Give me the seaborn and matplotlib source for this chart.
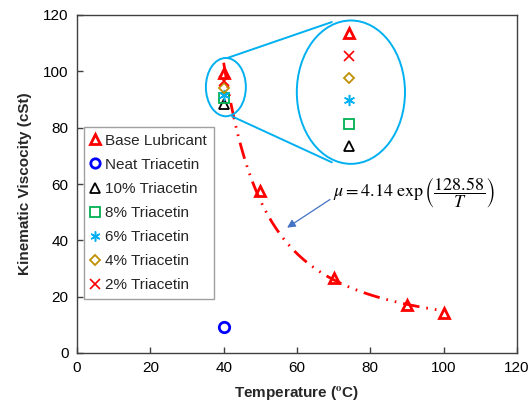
import numpy as np
import pandas as pd
import matplotlib
matplotlib.use("Agg")
import matplotlib.pyplot as plt
from matplotlib.patches import Ellipse
from matplotlib.lines import Line2D
import seaborn as sns

# ---------------- data ----------------
base_T = [40, 50, 70, 90, 100]
base_visc = [99.5, 57.5, 26.8, 17.1, 14.3]
neat_T = [40]
neat_visc = [9.3]
t10_T = [40]
t10_visc = [88.5]
t8_T = [40]
t8_visc = [90.5]
t6_T = [40]
t6_visc = [91.5]
t4_T = [40]
t4_visc = [94.0]
t2_T = [40]
t2_visc = [96.5]

# fitted model shown on chart: mu = A * exp(B / T)
fit_A = 4.14
fit_B = 128.58
fit_T_range = [40, 100]

# magnified view (inset) marker positions, top to bottom
zoom_x = [74.2] * 6
zoom_y = [113.6, 105.4, 97.6, 89.7, 81.2, 73.4]

labels = ["Base Lubricant", "Neat Triacetin", "10% Triacetin", "8% Triacetin",
          "6% Triacetin", "4% Triacetin", "2% Triacetin"]
x_ticks = [0, 20, 40, 60, 80, 100, 120]
y_ticks = [0, 20, 40, 60, 80, 100, 120]

# ---------------- style ----------------
sns.set_theme(style="white")
plt.rcParams["font.family"] = ["Liberation Sans", "DejaVu Sans"]
plt.rcParams["mathtext.fontset"] = "stix"

fig = plt.figure(figsize=(5.3, 4.08), dpi=100)
ax = fig.add_axes([77 / 530, 1 - 353 / 408, 440 / 530, 338 / 408])

RED = "#FF0000"
BLUE = "#0000FF"
BLACK = "#000000"
GREEN = "#00B050"
CYAN = "#00B0F0"
GOLD = "#BF9000"

series = [
    (base_T, base_visc, "^", RED, 2.0, 7.5),
    (neat_T, neat_visc, "o", BLUE, 2.0, 7.5),
    (t10_T, t10_visc, "^", BLACK, 1.3, 7.5),
    (t8_T, t8_visc, "s", GREEN, 1.3, 7.5),
    (t6_T, t6_visc, (6, 2, 0), CYAN, 1.1, 8),
    (t4_T, t4_visc, "D", GOLD, 1.3, 5.5),
    (t2_T, t2_visc, "x", RED, 1.2, 7.5),
]

# fit curve
T_fit = np.linspace(fit_T_range[0], fit_T_range[1], 300)
df_fit = pd.DataFrame({"T": T_fit, "mu": fit_A * np.exp(fit_B / T_fit)})
sns.lineplot(data=df_fit, x="T", y="mu", ax=ax, color=RED, lw=2,
             linestyle=(0, (6, 2.5, 0.6, 2.5, 0.6, 2.5)), errorbar=None, zorder=2)

handles = []
for (xs, ys, mk, c, mw, ms), lab in zip(series, labels):
    d = pd.DataFrame({"x": xs, "y": ys})
    sns.lineplot(data=d, x="x", y="y", ax=ax, marker=mk, linestyle="",
                 mfc="none", mec=c, mew=mw, ms=ms, color=c, errorbar=None, zorder=3)
    handles.append(Line2D([], [], marker=mk, linestyle="", mfc="none", mec=c,
                          mew=mw, ms=ms * 0.9, label=lab))

# magnifier
small = Ellipse((40.6, 94.4), 10.9, 20.7, fill=False, ec=CYAN, lw=1.4, zorder=4)
big = Ellipse((74.7, 92.6), 29.5, 50.9, fill=False, ec=CYAN, lw=1.4, zorder=4)
ax.add_patch(small)
ax.add_patch(big)
ax.plot([40.9, 69.5], [104.7, 117.5], color=CYAN, lw=1.4, zorder=4)
ax.plot([42.3, 69.5], [84.0, 67.7], color=CYAN, lw=1.4, zorder=4)

zoom_order = [0, 6, 5, 4, 3, 2]  # base, 2%, 4%, 6%, 8%, 10%
for zx, zy, idx in zip(zoom_x, zoom_y, zoom_order):
    _, _, mk, c, mw, ms = series[idx]
    d = pd.DataFrame({"x": [zx], "y": [zy]})
    sns.lineplot(data=d, x="x", y="y", ax=ax, marker=mk, linestyle="",
                 mfc="none", mec=c, mew=mw, ms=ms, color=c, errorbar=None, zorder=5)

# equation annotation
ax.annotate("", xy=(57.3, 44.5), xytext=(69.0, 54.5),
            arrowprops=dict(arrowstyle="-|>", color="#4472C4", lw=0.9,
                            mutation_scale=12, shrinkA=0, shrinkB=0))
ax.text(69.8, 57.0, r"$\mu = 4.14\ \exp\left(\dfrac{128.58}{T}\right)$",
        fontsize=13, ha="left", va="center", color="black")

# axes
ax.set_xlim(0, 120)
ax.set_ylim(0, 120)
ax.set_xticks(x_ticks)
ax.set_yticks(y_ticks)
ax.tick_params(axis="both", direction="in", length=4, width=1, colors="#404040",
               labelcolor="black", labelsize=11, pad=6, top=False, right=False,
               bottom=True, left=True)
for s in ax.spines.values():
    s.set_color("#404040")
    s.set_linewidth(1)
ax.set_xlabel(r"Temperature ($^{\mathbf{o}}$C)", fontsize=11, fontweight="bold", labelpad=6)
ax.set_ylabel("Kinematic Viscocity (cSt)", fontsize=11, fontweight="bold", labelpad=8)

leg = ax.legend(handles=handles, loc="upper left", bbox_to_anchor=(0.016, 0.669),
                borderaxespad=0, frameon=True, fancybox=False, edgecolor="#A0A0A0",
                fontsize=11, handlelength=0.6, handletextpad=0.35, labelspacing=0.66,
                borderpad=0.45, framealpha=1)
leg.get_frame().set_linewidth(1)

fig.savefig("out.png", dpi=100)
